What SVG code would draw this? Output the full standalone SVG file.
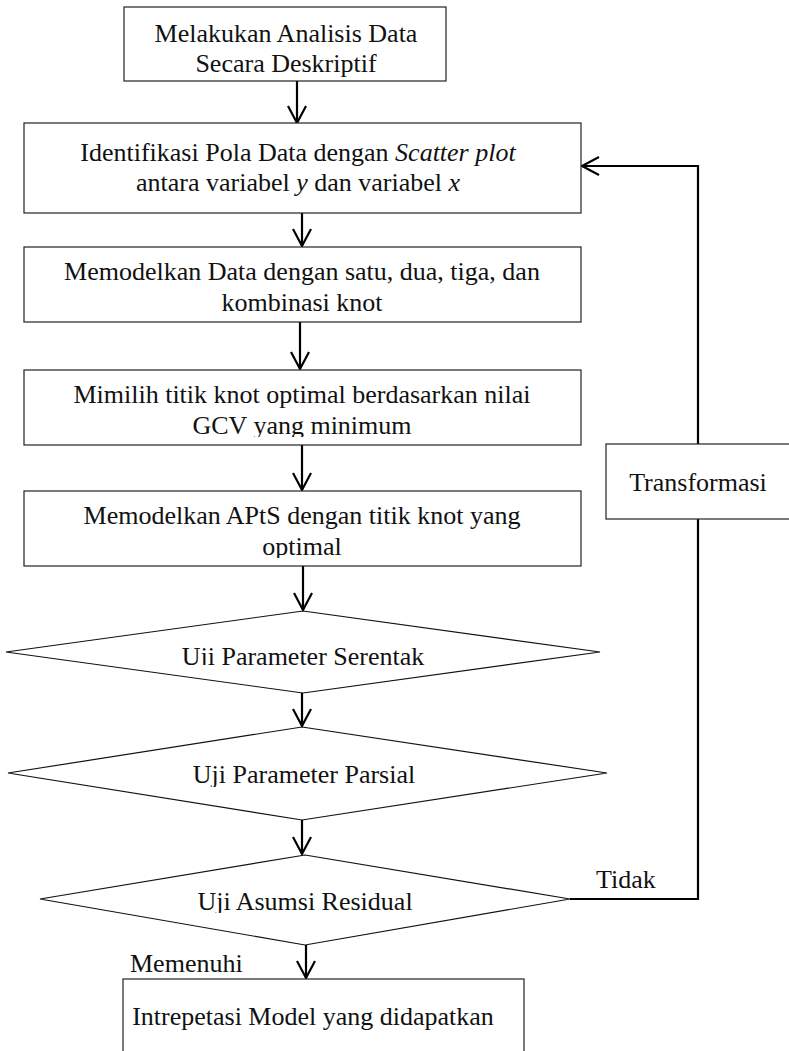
<svg xmlns="http://www.w3.org/2000/svg" width="789" height="1051" viewBox="0 0 789 1051">
<style>
.box{fill:#fff;stroke:#222;stroke-width:1.2}
.dia{fill:#fff;stroke:#111;stroke-width:1.2}
.t{font-family:"Liberation Serif","Times New Roman",serif;font-size:26px;fill:#111;text-anchor:middle}
.l{font-family:"Liberation Serif","Times New Roman",serif;font-size:26px;fill:#111}
.c{fill:none;stroke:#000;stroke-width:2.2}
.i{font-style:italic}
</style>
<defs>
<marker id="ah" viewBox="-20 -12 24 24" markerWidth="24" markerHeight="24" refX="0" refY="0" orient="auto" markerUnits="userSpaceOnUse">
<path d="M-17,-9 L0,0 L-17,9" fill="none" stroke="#000" stroke-width="2.2"/>
</marker>
<clipPath id="c1"><rect x="124" y="7" width="322" height="70"/></clipPath>
<clipPath id="c4"><rect x="24" y="370" width="557" height="67"/></clipPath>
<clipPath id="c5"><rect x="24" y="491" width="557" height="67"/></clipPath>
<clipPath id="cd1"><rect x="0" y="611" width="620" height="54"/></clipPath>
<clipPath id="cd2"><rect x="0" y="727" width="620" height="60"/></clipPath>
<clipPath id="cd3"><rect x="0" y="855" width="620" height="58"/></clipPath>
</defs>
<g id="connectors">
<line class="c" x1="297" y1="81" x2="297" y2="123" marker-end="url(#ah)"/>
<line class="c" x1="302" y1="213" x2="302" y2="246" marker-end="url(#ah)"/>
<line class="c" x1="300" y1="322" x2="300" y2="369" marker-end="url(#ah)"/>
<line class="c" x1="302" y1="445" x2="302" y2="490" marker-end="url(#ah)"/>
<line class="c" x1="303" y1="566" x2="303" y2="610" marker-end="url(#ah)"/>
<line class="c" x1="302" y1="693" x2="302" y2="726" marker-end="url(#ah)"/>
<line class="c" x1="302" y1="820" x2="302" y2="854" marker-end="url(#ah)"/>
<line class="c" x1="306" y1="945" x2="306" y2="978" marker-end="url(#ah)"/>
<polyline class="c" points="570,899 698,899 698,166 582,166" marker-end="url(#ah)"/>
</g>
<g id="n1">
<rect class="box" x="124" y="7" width="322" height="74"/>
<g clip-path="url(#c1)">
<text class="t" x="286" y="42">Melakukan Analisis Data</text>
<text class="t" x="286" y="72">Secara Deskriptif</text>
</g>
</g>
<g id="n2">
<rect class="box" x="24" y="123" width="557" height="90"/>
<text class="t" x="298" y="161">Identifikasi Pola Data dengan <tspan class="i">Scatter plot</tspan></text>
<text class="t" x="298" y="191">antara variabel <tspan class="i">y</tspan> dan variabel <tspan class="i">x</tspan></text>
</g>
<g id="n3">
<rect class="box" x="24" y="247" width="557" height="75"/>
<text class="t" x="302" y="280">Memodelkan Data dengan satu, dua, tiga, dan</text>
<text class="t" x="302" y="311">kombinasi knot</text>
</g>
<g id="n4">
<rect class="box" x="24" y="370" width="557" height="75"/>
<g clip-path="url(#c4)">
<text class="t" x="302" y="403">Mimilih titik knot optimal berdasarkan nilai</text>
<text class="t" x="302" y="434">GCV yang minimum</text>
</g>
</g>
<g id="n5">
<rect class="box" x="24" y="491" width="557" height="75"/>
<g clip-path="url(#c5)">
<text class="t" x="302" y="524">Memodelkan APtS dengan titik knot yang</text>
<text class="t" x="302" y="555">optimal</text>
</g>
</g>
<g id="d1">
<polygon class="dia" points="303,611 600,652 303,693 6,652"/>
<g clip-path="url(#cd1)"><text class="t" x="303" y="665">Uji Parameter Serentak</text></g>
</g>
<g id="d2">
<polygon class="dia" points="302,727 607,773 302,820 8,773"/>
<g clip-path="url(#cd2)"><text class="t" x="304" y="783">Uji Parameter Parsial</text></g>
</g>
<g id="d3">
<polygon class="dia" points="305,855 570,899 305,945 40,899"/>
<g clip-path="url(#cd3)"><text class="t" x="305" y="910">Uji Asumsi Residual</text></g>
</g>
<g id="transformasi">
<rect class="box" x="606" y="444" width="200" height="75"/>
<text class="t" x="698" y="491">Transformasi</text>
</g>
<g id="n6">
<rect class="box" x="123" y="979" width="401" height="90"/>
<text class="t" x="313" y="1025">Intrepetasi Model yang didapatkan</text>
</g>
<g id="labels">
<text class="l" x="596" y="888">Tidak</text>
<text class="l" x="130" y="972">Memenuhi</text>
</g>
</svg>
